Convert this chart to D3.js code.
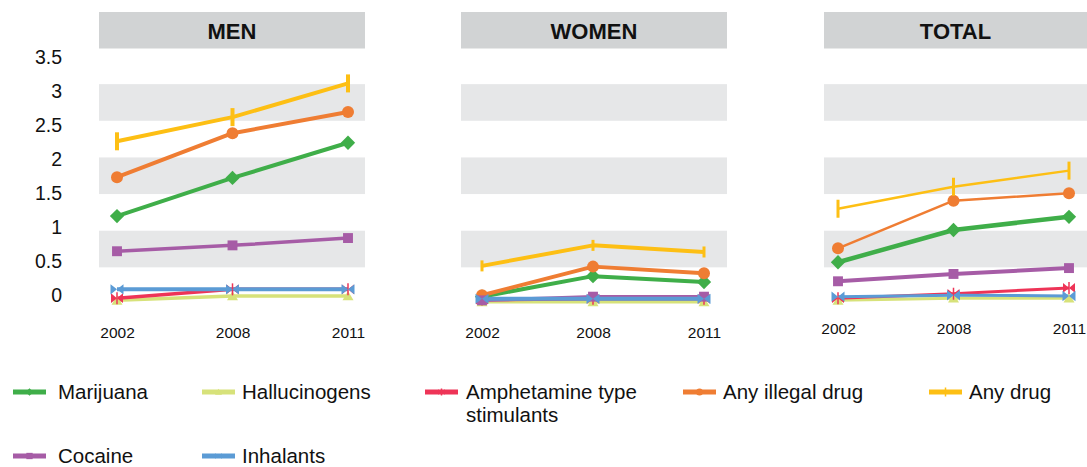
<!DOCTYPE html>
<html><head><meta charset="utf-8">
<script src="https://cdn.jsdelivr.net/npm/d3@7"></script>
<style>body{margin:0;background:#fff}svg{display:block;font-family:"Liberation Sans",Arial,Helvetica,sans-serif}</style>
</head><body><svg id="c" width="1087" height="467"></svg>
<script>
// ---- data ----
const years = ["2002", "2008", "2011"];
const panelTitles = ["MEN", "WOMEN", "TOTAL"];
const seriesNames = ["Marijuana", "Hallucinogens", "Amphetamine type stimulants", "Any illegal drug", "Any drug", "Cocaine", "Inhalants"];
const yTicks = [0, 0.5, 1, 1.5, 2, 2.5, 3, 3.5];
// each array: [men, women, total] × [2002, 2008, 2011]
const marijuana     = [[1.20, 1.72, 2.20], [0.10, 0.38, 0.30], [0.57, 1.01, 1.19]];
const hallucinogens = [[0.05, 0.11, 0.11], [0.03, 0.03, 0.03], [0.05, 0.08, 0.08]];
const amphetamine   = [[0.08, 0.20, 0.20], [0.06, 0.07, 0.07], [0.08, 0.14, 0.22]];
const anyIllegal    = [[1.73, 2.33, 2.62], [0.12, 0.51, 0.42], [0.76, 1.41, 1.51]];
const anyDrug       = [[2.22, 2.55, 3.01], [0.52, 0.80, 0.71], [1.30, 1.60, 1.82]];
const cocaine       = [[0.72, 0.80, 0.90], [0.05, 0.10, 0.10], [0.31, 0.41, 0.49]];
const inhalants     = [[0.20, 0.20, 0.20], [0.07, 0.07, 0.07], [0.10, 0.12, 0.11]];

// ---- styles ----
const seriesValues = [marijuana, hallucinogens, amphetamine, anyIllegal, anyDrug, cocaine, inhalants];
const colors = ["#3fae49", "#d7e27a", "#ee3457", "#ef7d33", "#fdbf14", "#a65ca6", "#5b9bd5"];
const markers = ["diamond", "triangle", "star", "circle", "bar", "square", "bowtie"];

const svg = d3.select("#c");
const yBand = d3.scaleLinear().domain([0, 3.5]).range([304, 47.5]);
const yLabel = d3.scaleLinear().domain([0, 3.5]).range([295, 57]);

const panels = [
  { band: [99, 365], pts: [117, 348], lw: [4, 3.5, 3.5, 4, 4, 3.5, 4], barH: 18, barW: 4, labY: 333 },
  { band: [461, 727], pts: [482, 704], lw: [4, 3.5, 3.5, 4, 4, 3.5, 4], barH: 11, barW: 3, labY: 333 },
  { band: [824, 1092], pts: [838, 1069], lw: [4.5, 3, 3, 2.5, 2.5, 4, 3], barH: 18, barW: 3, labY: 329 }
];

function drawMarker(g, type, cx, cy, s, color, barH, barW) {
  if (type === "diamond") {
    g.append("path").attr("d", `M${cx},${cy - s * 1.1}L${cx + s * 1.1},${cy}L${cx},${cy + s * 1.1}L${cx - s * 1.1},${cy}Z`).attr("fill", color);
  } else if (type === "triangle") {
    g.append("path").attr("d", `M${cx},${cy - s * 0.9}L${cx + s},${cy + s * 0.8}L${cx - s},${cy + s * 0.8}Z`).attr("fill", color);
  } else if (type === "circle") {
    g.append("circle").attr("cx", cx).attr("cy", cy).attr("r", s).attr("fill", color);
  } else if (type === "square") {
    g.append("rect").attr("x", cx - s * 0.9).attr("y", cy - s * 0.9).attr("width", s * 1.8).attr("height", s * 1.8).attr("fill", color);
  } else if (type === "bar") {
    g.append("rect").attr("x", cx - barW / 2).attr("y", cy - barH / 2).attr("width", barW).attr("height", barH).attr("fill", color);
  } else if (type === "bowtie" || type === "star") {
    g.append("path").attr("d", `M${cx - s},${cy - s * 0.8}L${cx},${cy}L${cx - s},${cy + s * 0.8}Z M${cx + s},${cy - s * 0.8}L${cx},${cy}L${cx + s},${cy + s * 0.8}Z`).attr("fill", color);
    if (type === "star") {
      g.append("line").attr("x1", cx).attr("x2", cx).attr("y1", cy - s).attr("y2", cy + s).attr("stroke", color).attr("stroke-width", 1.5);
    }
  }
}

panels.forEach((p, pi) => {
  const g = svg.append("g");
  // title band
  g.append("rect").attr("x", p.band[0]).attr("y", 12).attr("width", p.band[1] - p.band[0]).attr("height", 36.5).attr("fill", "#d1d3d4");
  g.append("text").attr("x", (p.band[0] + Math.min(p.band[1], 1087)) / 2).attr("y", 38.5)
    .attr("text-anchor", "middle").attr("font-size", 22).attr("font-weight", "bold").attr("fill", "#111").text(panelTitles[pi]);
  // grey bands
  [[2.5, 3], [1.5, 2], [0.5, 1]].forEach(b => {
    g.append("rect").attr("x", p.band[0]).attr("width", p.band[1] - p.band[0])
      .attr("y", yBand(b[1])).attr("height", yBand(b[0]) - yBand(b[1])).attr("fill", "#e6e7e8");
  });
  const x = d3.scalePoint().domain(years).range(p.pts);
  // x axis labels
  const ax = g.append("g").attr("transform", `translate(0,${p.labY})`)
    .call(d3.axisBottom(x).tickSize(0).tickPadding(0));
  ax.select(".domain").remove();
  ax.selectAll("text").attr("y", 0).attr("dy", "0.35em").attr("font-size", 15.5).attr("fill", "#111")
    .attr("font-family", '"Liberation Sans",Arial,sans-serif');
  // lines
  const line = d3.line().x((d, i) => x(years[i])).y(d => yBand(d));
  seriesValues.forEach((vals, si) => {
    g.append("path").attr("d", line(vals[pi])).attr("fill", "none").attr("stroke", colors[si])
      .attr("stroke-width", p.lw[si]).attr("stroke-linejoin", "round");
  });
  // markers
  const msize = [6.5, 5.5, 6, 6, 0, 5.5, 6.5];
  seriesValues.forEach((vals, si) => {
    vals[pi].forEach((v, i) => {
      drawMarker(g, markers[si], x(years[i]), yBand(v), msize[si], colors[si], p.barH, p.barW);
    });
  });
});

// y axis labels
const yAx = svg.append("g").attr("transform", "translate(62,0)")
  .call(d3.axisLeft(yLabel).tickValues(yTicks).tickSize(0).tickPadding(0).tickFormat(d => String(d)));
yAx.select(".domain").remove();
yAx.selectAll("text").attr("x", 0).attr("dy", "0.35em").attr("font-size", 19.5).attr("fill", "#111")
  .attr("font-family", '"Liberation Sans",Arial,sans-serif');

// legend
const legendPos = [
  [13, 392, 58], [202, 392, 242], [425, 392, 466], [683, 392, 723], [929, 392, 969],
  [13, 456, 58], [202, 456, 242]
];
const lg = svg.append("g");
seriesNames.forEach((name, si) => {
  const [lx, ly, tx] = legendPos[si];
  lg.append("line").attr("x1", lx).attr("x2", lx + 33).attr("y1", ly).attr("y2", ly)
    .attr("stroke", colors[si]).attr("stroke-width", 5);
  drawMarker(lg, markers[si], lx + 16.5, ly, 3.5, colors[si], 9, 1.5);
  const t = lg.append("text").attr("x", tx).attr("y", ly).attr("dy", "0.35em").attr("font-size", 20.5).attr("fill", "#111");
  if (name === "Amphetamine type stimulants") {
    t.text("Amphetamine type");
    lg.append("text").attr("x", tx).attr("y", ly + 23).attr("dy", "0.35em").attr("font-size", 20.5).attr("fill", "#111").text("stimulants");
  } else {
    t.text(name);
  }
});
</script></body></html>
